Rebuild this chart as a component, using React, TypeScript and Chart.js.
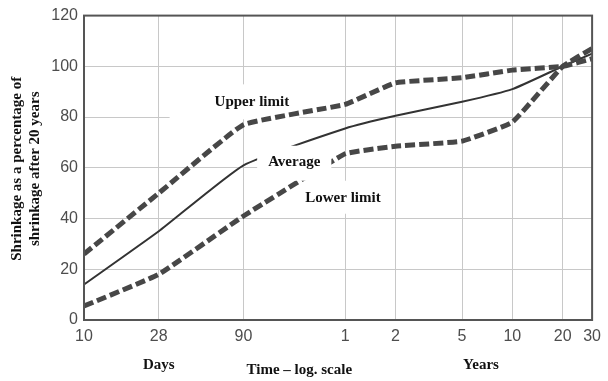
import React, { useEffect, useRef } from 'react';
import { Chart, registerables } from 'chart.js';

Chart.register(...registerables);

// ---- data ----
const xTickDays = [10, 28, 90, 365, 730, 1825, 3650, 7300, 10950];
const xTickLabels = ['10', '28', '90', '1', '2', '5', '10', '20', '30'];
const yMin = 0;
const yMax = 120;
const yStep = 20;

const upperLimit = [26, 50, 77, 85, 93.5, 95.5, 98.5, 100, 103];
const average = [14, 35, 61, 75.5, 80.5, 86, 91, 100, 105];
const lowerLimit = [5.5, 18, 41, 65.5, 68.5, 70.5, 78, 100, 107];

const seriesNames = ['Upper limit', 'Average', 'Lower limit'];
const seriesLabelDays = [101, 181, 354];
const seriesLabelValues = [86, 62.2, 48];

const yTitleLines = ['Shrinkage as a percentage of', 'shrinkage after 20 years'];
const xNotes = ['Days', 'Time \u2013 log. scale', 'Years'];
const xNoteDays = [28, 194, 2370];

// ---- styles ----
const W = 608;
const H = 381;
const TICK_FONT = '"Liberation Sans", Arial, sans-serif';
const SERIF = '"Liberation Serif", "Times New Roman", serif';
const LINE_COLOR = '#474747';
// label box paddings: [left, right, top, bottom], drawn above datasets?
const labelBoxes = [
  { pad: [45, 10, 10, 10], above: false },
  { pad: [11, 11, 9, 11], above: true },
  { pad: [10, 10, 10, 8], above: false },
];
const xNoteOffsets = [45, 50, 45];

export default function App() {
  const canvasRef = useRef<HTMLCanvasElement | null>(null);

  useEffect(() => {
    const canvas = canvasRef.current;
    if (!canvas) return;

    const drawLabelBoxes = (chart: any, above: boolean) => {
      const ctx = chart.ctx;
      const xs = chart.scales.x;
      const ys = chart.scales.y;
      ctx.save();
      ctx.font = `bold 15px ${SERIF}`;
      seriesNames.forEach((name, i) => {
        const b = labelBoxes[i];
        if (b.above !== above) return;
        const cx = xs.getPixelForValue(seriesLabelDays[i]);
        const cy = ys.getPixelForValue(seriesLabelValues[i]);
        const w = ctx.measureText(name).width;
        const l = cx - w / 2 - b.pad[0];
        const r = cx + w / 2 + b.pad[1];
        const t = cy - 7.5 - b.pad[2];
        const bt = cy + 7.5 + b.pad[3];
        ctx.fillStyle = '#ffffff';
        ctx.fillRect(l, t, r - l, bt - t);
      });
      ctx.restore();
    };

    const decor = {
      id: 'decor',
      beforeDatasetsDraw(chart: any) {
        drawLabelBoxes(chart, false);
      },
      afterDatasetsDraw(chart: any) {
        drawLabelBoxes(chart, true);
        const ctx = chart.ctx;
        const xs = chart.scales.x;
        const ys = chart.scales.y;
        const a = chart.chartArea;
        ctx.save();
        // series labels
        ctx.font = `bold 15px ${SERIF}`;
        ctx.fillStyle = '#111';
        ctx.textAlign = 'center';
        ctx.textBaseline = 'middle';
        seriesNames.forEach((name, i) => {
          ctx.fillText(name, xs.getPixelForValue(seriesLabelDays[i]), ys.getPixelForValue(seriesLabelValues[i]));
        });
        // frame
        ctx.strokeStyle = '#555';
        ctx.lineWidth = 2;
        ctx.strokeRect(a.left, a.top, a.right - a.left, a.bottom - a.top);
        // x notes
        ctx.font = `bold 15px ${SERIF}`;
        xNotes.forEach((t, i) => {
          ctx.fillText(t, xs.getPixelForValue(xNoteDays[i]), a.bottom + xNoteOffsets[i]);
        });
        // y title
        const cy = (a.top + a.bottom) / 2 + 1;
        ctx.translate(0, cy);
        ctx.rotate(-Math.PI / 2);
        ctx.fillText(yTitleLines[0], 0, 17);
        ctx.fillText(yTitleLines[1], 0, 35);
        ctx.restore();
      },
    };

    const mk = (vals: number[]) => xTickDays.map((d, i) => ({ x: d, y: vals[i] }));

    const chart = new Chart(canvas, {
      type: 'line',
      data: {
        datasets: [
          {
            label: seriesNames[0],
            data: mk(upperLimit),
            borderColor: LINE_COLOR,
            borderWidth: 5,
            borderDash: [10, 4],
            pointRadius: 0,
            tension: 0.1,
            fill: false,
          },
          {
            label: seriesNames[2],
            data: mk(lowerLimit),
            borderColor: LINE_COLOR,
            borderWidth: 5,
            borderDash: [10, 4],
            pointRadius: 0,
            tension: 0.1,
            fill: false,
          },
          {
            label: seriesNames[1],
            data: mk(average),
            borderColor: '#333',
            borderWidth: 2,
            pointRadius: 0,
            tension: 0.15,
            fill: false,
          },
        ],
      },
      options: {
        animation: false,
        responsive: false,
        devicePixelRatio: 1,
        layout: { padding: { left: 0, top: 14, right: 11, bottom: 0 } },
        plugins: {
          legend: { display: false },
          tooltip: { enabled: false },
        },
        scales: {
          x: {
            type: 'logarithmic',
            min: xTickDays[0],
            max: xTickDays[xTickDays.length - 1],
            afterBuildTicks: (scale: any) => {
              scale.ticks = xTickDays.map((v) => ({ value: v }));
            },
            afterFit: (scale: any) => {
              scale.height = 61;
            },
            border: { display: false },
            grid: { color: '#c8c8c8', lineWidth: 1, drawTicks: false },
            ticks: {
              autoSkip: false,
              maxRotation: 0,
              padding: 7,
              color: '#4d4d4d',
              font: { family: TICK_FONT, size: 16 },
              callback: (_v: any, i: number) => xTickLabels[i],
            },
          },
          y: {
            min: yMin,
            max: yMax,
            afterFit: (scale: any) => {
              scale.width = 84;
            },
            border: { display: false },
            grid: { color: '#c8c8c8', lineWidth: 1, drawTicks: false },
            ticks: {
              stepSize: yStep,
              padding: 6,
              color: '#4d4d4d',
              font: { family: TICK_FONT, size: 16 },
            },
          },
        },
      },
      plugins: [decor],
    });

    return () => chart.destroy();
  }, []);

  return (
    <div style={{ position: 'fixed', left: 0, top: 0, width: W, height: H, background: '#fff' }}>
      <canvas ref={canvasRef} width={W} height={H} style={{ width: W, height: H, display: 'block' }} />
    </div>
  );
}
